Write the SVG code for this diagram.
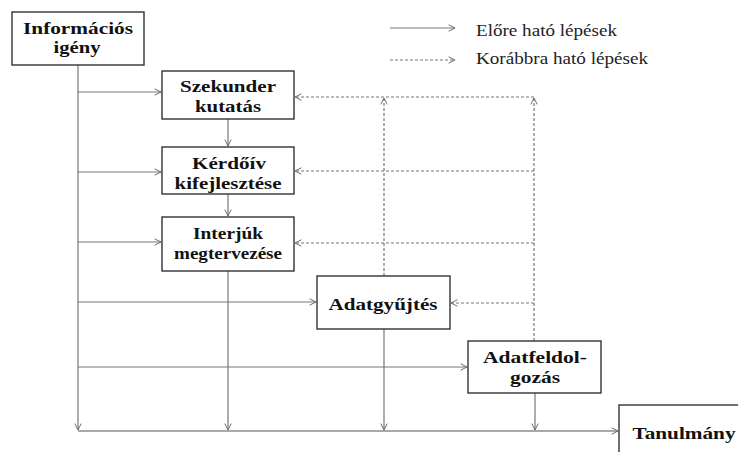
<svg xmlns="http://www.w3.org/2000/svg" width="738" height="452" viewBox="0 0 738 452">
<style>
.box{fill:#fff;stroke:#333;stroke-width:1.4}
.t{font-family:"Liberation Serif","Times New Roman",serif;font-weight:bold;font-size:16.5px;fill:#111;text-anchor:middle}
.lg{font-family:"Liberation Serif","Times New Roman",serif;font-size:16px;fill:#222}
.s{fill:none;stroke:#777;stroke-width:1.2}
.d{fill:none;stroke:#777;stroke-width:1.2;stroke-dasharray:3,2}
</style>
<defs>
<marker id="a" viewBox="0 0 10 10" refX="9" refY="5" markerWidth="8" markerHeight="8" markerUnits="userSpaceOnUse" orient="auto">
<path d="M1,1 L9,5 L1,9" fill="none" stroke="#666" stroke-width="1.2"/>
</marker>
</defs>
<g id="connectors">
<path class="s" d="M78,65 V430" marker-end="url(#a)"/>
<path class="s" d="M78,92 H161" marker-end="url(#a)"/>
<path class="s" d="M78,172 H161" marker-end="url(#a)"/>
<path class="s" d="M78,242 H161" marker-end="url(#a)"/>
<path class="s" d="M78,302 H316" marker-end="url(#a)"/>
<path class="s" d="M78,367 H467" marker-end="url(#a)"/>
<path class="s" d="M78,431 H618" marker-end="url(#a)" style="stroke:#555"/>
<path class="s" d="M228,119 V146" marker-end="url(#a)"/>
<path class="s" d="M228,194 V216" marker-end="url(#a)"/>
<path class="s" d="M228,271 V430" marker-end="url(#a)"/>
<path class="s" d="M384,329 V430" marker-end="url(#a)"/>
<path class="s" d="M535,393 V430" marker-end="url(#a)"/>
<path class="d" d="M534,97 H295" marker-end="url(#a)"/>
<path class="d" d="M534,171 H295" marker-end="url(#a)"/>
<path class="d" d="M534,243 H295" marker-end="url(#a)"/>
<path class="d" d="M534,303 H451" marker-end="url(#a)"/>
<path class="d" d="M384,276 V98" marker-end="url(#a)"/>
<path class="d" d="M534,341 V98" marker-end="url(#a)"/>
</g>
<g id="legend">
<path class="s" d="M390,28 H455" marker-end="url(#a)"/>
<path class="d" d="M390,60 H455" marker-end="url(#a)"/>
<text class="lg" x="476" y="36" textLength="141" lengthAdjust="spacingAndGlyphs">Előre ható lépések</text>
<text class="lg" x="476" y="64" textLength="172" lengthAdjust="spacingAndGlyphs">Korábbra ható lépések</text>
</g>
<g id="informacios-igeny">
<rect class="box" x="12" y="12" width="132" height="53"/>
<text class="t" x="78" y="34" textLength="110" lengthAdjust="spacingAndGlyphs">Információs</text>
<text class="t" x="77" y="53" textLength="47" lengthAdjust="spacingAndGlyphs">igény</text>
</g>
<g id="szekunder-kutatas">
<rect class="box" x="162" y="71" width="132" height="48"/>
<text class="t" x="228" y="92" textLength="96" lengthAdjust="spacingAndGlyphs">Szekunder</text>
<text class="t" x="228" y="112" textLength="66" lengthAdjust="spacingAndGlyphs">kutatás</text>
</g>
<g id="kerdoiv">
<rect class="box" x="162" y="147" width="132" height="47"/>
<text class="t" x="229" y="169" textLength="74" lengthAdjust="spacingAndGlyphs">Kérdőív</text>
<text class="t" x="228" y="189" textLength="107" lengthAdjust="spacingAndGlyphs">kifejlesztése</text>
</g>
<g id="interjuk">
<rect class="box" x="162" y="217" width="132" height="54"/>
<text class="t" x="228" y="239" textLength="70" lengthAdjust="spacingAndGlyphs">Interjúk</text>
<text class="t" x="228" y="259" textLength="108" lengthAdjust="spacingAndGlyphs">megtervezése</text>
</g>
<g id="adatgyujtes">
<rect class="box" x="317" y="276" width="133" height="53"/>
<text class="t" x="383" y="310" textLength="109" lengthAdjust="spacingAndGlyphs">Adatgyűjtés</text>
</g>
<g id="adatfeldolgozas">
<rect class="box" x="468" y="341" width="133" height="52"/>
<text class="t" x="535" y="363" textLength="104" lengthAdjust="spacingAndGlyphs">Adatfeldol-</text>
<text class="t" x="535" y="383" textLength="50" lengthAdjust="spacingAndGlyphs">gozás</text>
</g>
<g id="tanulmany">
<rect class="box" x="619" y="405" width="125" height="60"/>
<text class="t" x="684" y="439" textLength="103" lengthAdjust="spacingAndGlyphs">Tanulmány</text>
</g>
</svg>
